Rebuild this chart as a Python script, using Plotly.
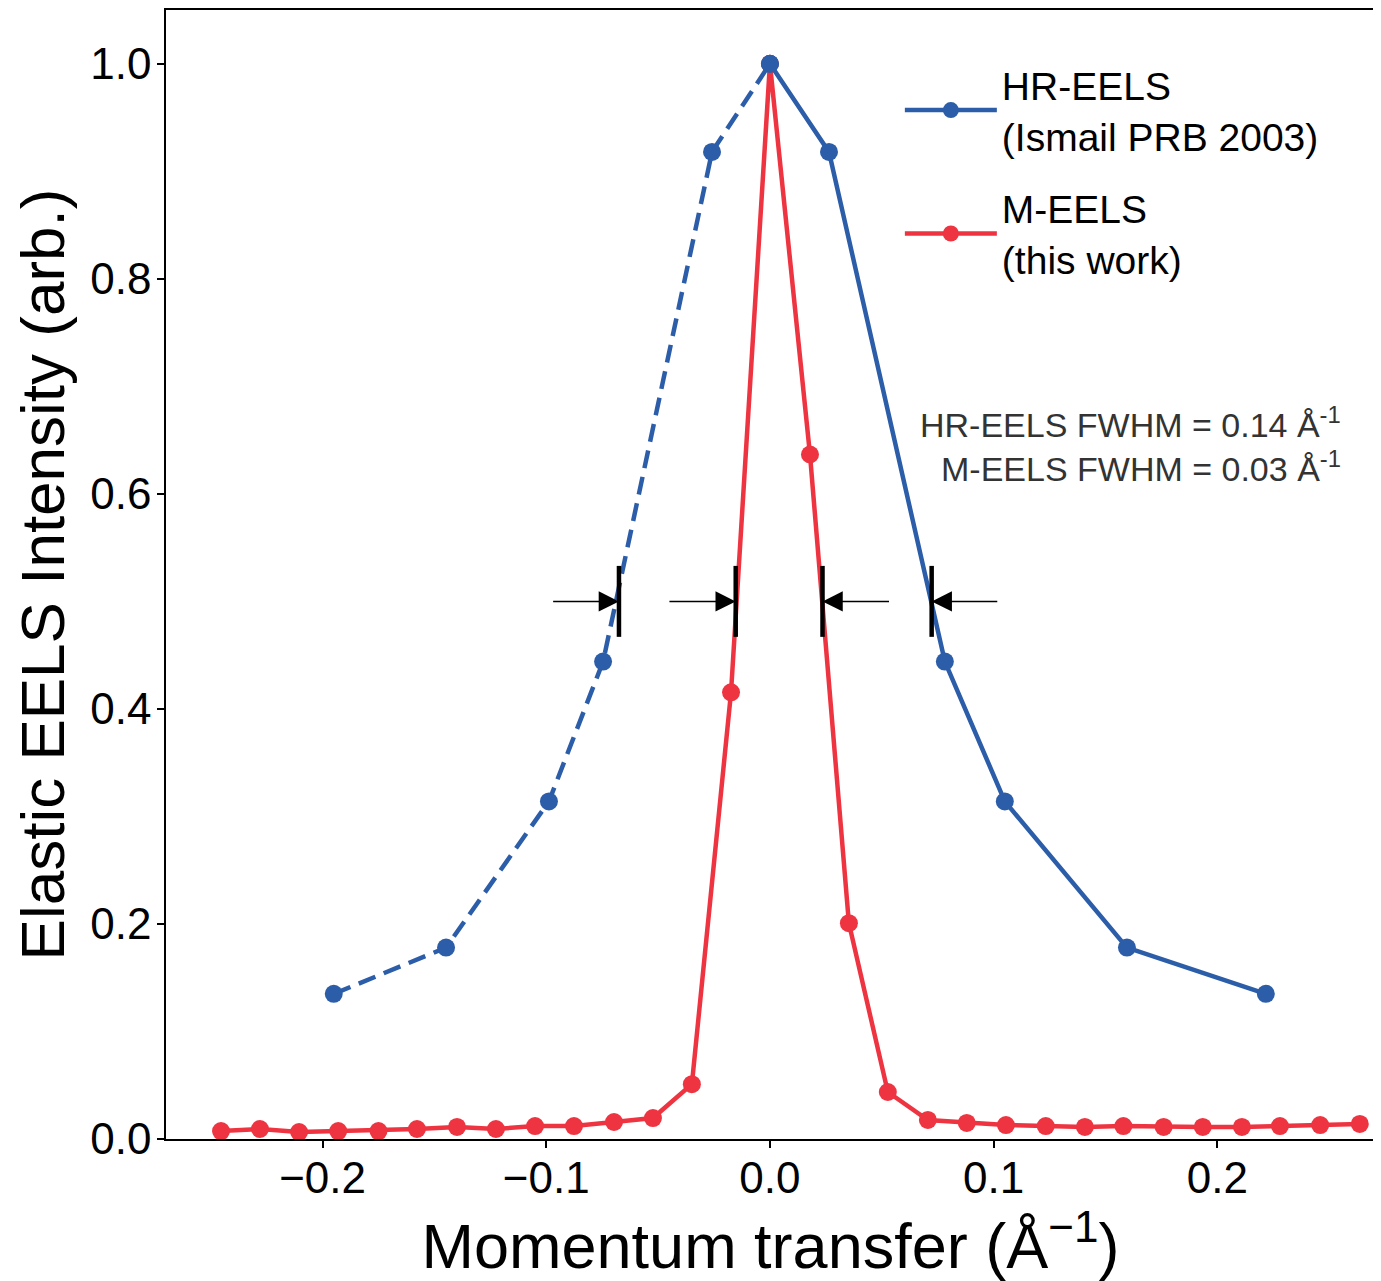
import plotly.graph_objects as go

# ---- data ----
hr_x_left = [-0.195, -0.1448, -0.0988, -0.0746, -0.0259, 0.0]
hr_y_left = [0.135, 0.178, 0.314, 0.444, 0.918, 1.0]
hr_x_right = [0.0, 0.0264, 0.0782, 0.105, 0.1596, 0.2217]
hr_y_right = [1.0, 0.918, 0.444, 0.314, 0.178, 0.135]

m_x = [-0.2454, -0.228, -0.2105, -0.193, -0.175, -0.1578, -0.1399, -0.1225,
       -0.105, -0.0876, -0.0697, -0.0523, -0.0349, -0.0174, 0.0, 0.0179,
       0.0353, 0.0527, 0.0706, 0.088, 0.1055, 0.1233, 0.1408, 0.158, 0.176,
       0.1935, 0.211, 0.228, 0.246, 0.2637]
m_y = [0.0074, 0.0093, 0.0065, 0.0074, 0.0074, 0.0093, 0.0112, 0.0093,
       0.012, 0.012, 0.0158, 0.0195, 0.051, 0.4154, 1.0, 0.6366,
       0.2007, 0.0437, 0.0177, 0.0149, 0.013, 0.012, 0.0112, 0.012, 0.0112,
       0.0112, 0.0112, 0.012, 0.013, 0.014]

half_max = 0.5
fwhm_edges = [-0.0675, -0.0153, 0.0235, 0.0723]   # HR left, M left, M right, HR right
arrow_tails = [-0.0976, -0.0456, 0.0539, 0.1023]
bar_half = 0.033

xticks = [-0.2, -0.1, 0.0, 0.1, 0.2]
xticklabels = ["\u22120.2", "\u22120.1", "0.0", "0.1", "0.2"]
yticks = [0.0, 0.2, 0.4, 0.6, 0.8, 1.0]
yticklabels = ["0.0", "0.2", "0.4", "0.6", "0.8", "1.0"]

BLUE = "#2C5DA9"
RED = "#EE3440"
FONT = "Liberation Sans, Arial, sans-serif"

fig = go.Figure()

fig.add_trace(go.Scatter(
    x=m_x, y=m_y, mode="lines+markers", name="M-EELS<br>(this work)",
    line=dict(color=RED, width=4.5), marker=dict(color=RED, size=18),
    legendrank=2, legendgroup="m"))
fig.add_trace(go.Scatter(
    x=hr_x_left, y=hr_y_left, mode="lines+markers", showlegend=False,
    line=dict(color=BLUE, width=4.5, dash="18px,9px"),
    marker=dict(color=BLUE, size=18), legendgroup="hr"))
fig.add_trace(go.Scatter(
    x=hr_x_right, y=hr_y_right, mode="lines+markers",
    name="HR-EELS<br>(Ismail PRB 2003)",
    line=dict(color=BLUE, width=4.5), marker=dict(color=BLUE, size=18),
    legendrank=1, legendgroup="hr"))

# FWHM bars and arrows
for xe, xt in zip(fwhm_edges, arrow_tails):
    fig.add_shape(type="line", x0=xe, x1=xe, y0=half_max - bar_half,
                  y1=half_max + bar_half, xref="x", yref="y",
                  line=dict(color="black", width=4.5))
    fig.add_annotation(x=xe, y=half_max, ax=xt, ay=half_max,
                       xref="x", yref="y", axref="x", ayref="y",
                       text="", showarrow=True, arrowhead=2,
                       arrowsize=2.7, arrowwidth=1.5, arrowcolor="black")

fig.add_annotation(x=0.9735, y=0.635, xref="paper", yref="paper",
                   xanchor="right", yanchor="middle", showarrow=False,
                   text="HR-EELS FWHM = 0.14 Å<sup>-1</sup>",
                   font=dict(family=FONT, size=34, color="#333333"))
fig.add_annotation(x=0.9735, y=0.596, xref="paper", yref="paper",
                   xanchor="right", yanchor="middle", showarrow=False,
                   text="M-EELS FWHM = 0.03 Å<sup>-1</sup>",
                   font=dict(family=FONT, size=34, color="#333333"))

# the page body has an 8px margin, so the figure is sized to fit the window
fig.update_layout(
    width=1373, height=1273,
    margin=dict(l=158, r=6, t=2, b=142, autoexpand=False),
    paper_bgcolor="white", plot_bgcolor="white",
    font=dict(family=FONT, color="black"),
    showlegend=True,
    legend=dict(x=0.607, y=0.962, xanchor="left", yanchor="top",
                font=dict(family=FONT, size=39, color="black"),
                bgcolor="rgba(0,0,0,0)", itemwidth=92, tracegroupgap=19),
    xaxis=dict(range=[-0.27, 0.2705], tickvals=xticks, ticktext=xticklabels,
               ticks="outside", ticklen=7, tickwidth=1.5, tickcolor="black",
               showline=True, linecolor="black", linewidth=1.6, mirror=True,
               showgrid=False, zeroline=False, automargin=False,
               ticklabelstandoff=-8,
               tickfont=dict(family=FONT, size=44),
               title=dict(text="Momentum transfer (Å<sup>−1</sup>)",
                          font=dict(family=FONT, size=63), standoff=6)),
    yaxis=dict(range=[0, 1.05], tickvals=yticks, ticktext=yticklabels,
               ticks="outside", ticklen=7, tickwidth=1.5, tickcolor="black",
               showline=True, linecolor="black", linewidth=1.6, mirror=True,
               showgrid=False, zeroline=False, automargin=False,
               ticklabelstandoff=-3,
               tickfont=dict(family=FONT, size=44),
               title=dict(text="Elastic EELS Intensity (arb.)",
                          font=dict(family=FONT, size=62), standoff=16)),
)

fig.write_html("out.html")
